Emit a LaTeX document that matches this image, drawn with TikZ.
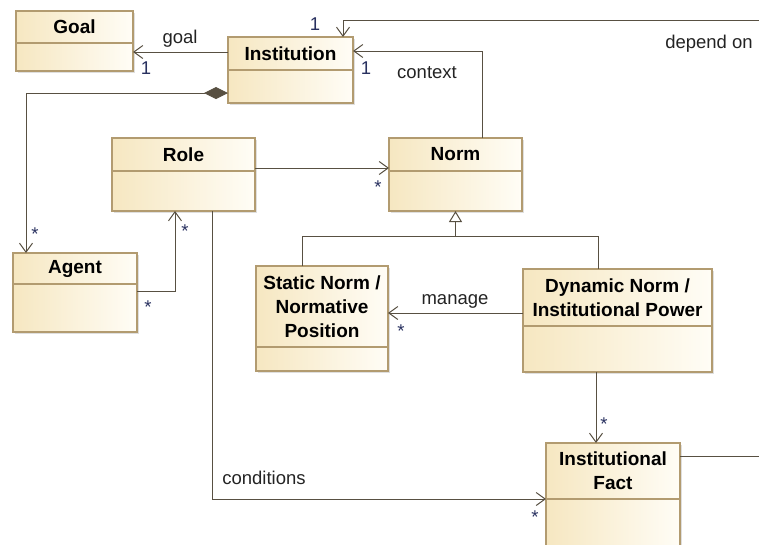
\documentclass[tikz,border=0pt]{standalone}
\usepackage{fontspec}
\setmainfont{Liberation Sans}
\usetikzlibrary{arrows.meta,shadows,calc}
\definecolor{classL}{RGB}{246,231,193}
\definecolor{classR}{RGB}{255,253,246}
\definecolor{classB}{RGB}{178,155,112}
\definecolor{lineC}{RGB}{88,80,66}
\definecolor{multC}{RGB}{40,48,95}
\definecolor{labC}{RGB}{35,35,35}
\tikzset{
  classbox/.style={draw=classB, line width=1.2pt, left color=classL, right color=classR,
    inner sep=0pt, outer sep=0pt,
    drop shadow={shadow xshift=1.5pt, shadow yshift=-1.5pt, opacity=0.25}},
  divider/.style={draw=classB, line width=1.2pt},
  classtitle/.style={font=\fontsize{19}{24}\selectfont\bfseries, align=center, inner sep=0pt, text=black},
  conn/.style={draw=lineC, line width=1pt},
  nav/.style={conn, -{Straight Barb[length=9pt,width=13pt]}},
  gen/.style={conn, -{Triangle[open, length=11pt, width=13pt, fill=white]}},
  comp/.style={conn, {Diamond[length=24pt, width=12pt, fill=lineC]}-{Straight Barb[length=9pt,width=13pt]}},
  lab/.style={font=\fontsize{18.5}{20}\selectfont, text=labC, inner sep=0pt},
  mult/.style={font=\fontsize{18.5}{20}\selectfont, text=multC, inner sep=0pt},
}
\newcommand{\umlclass}[7]{%
  \pgfmathsetmacro{\umlW}{#4-#2}\pgfmathsetmacro{\umlH}{#5-#3}%
  \node[classbox, minimum width=\umlW pt, minimum height=\umlH pt] (#1) at ({(#2+#4)/2},{(#3+#5)/2}) {};
  \draw[divider] (#2,#6) -- (#4,#6);
  \node[classtitle] (#1-title) at ({(#2+#4)/2},{(#3+#6)/2}) {#7};
}
\begin{document}
\begin{tikzpicture}[x=1pt,y=-1pt]
\useasboundingbox (0,0) rectangle (759,544);
\clip (0,0) rectangle (759,544);

\umlclass{Goal}{16}{11}{133}{71}{43}{Goal}
\umlclass{Institution}{228}{37}{353}{103}{70}{Institution}
\umlclass{Role}{112}{138}{255}{211}{171}{Role}
\umlclass{Norm}{389}{138}{522}{211}{171}{Norm}
\umlclass{Agent}{13}{253}{137}{332}{284}{Agent}
\umlclass{Static}{256}{266}{388}{371}{347}{Static Norm /\\Normative\\Position}
\umlclass{Dynamic}{523}{269}{712}{372}{326}{Dynamic Norm /\\Institutional Power}
\umlclass{IF}{546}{443}{680}{570}{499}{Institutional\\Fact}

% goal
\draw[nav] (Institution.west |- 0,52) -- (Goal.east |- 0,52);
\node[lab] (lgoal) at (180,39) {goal};
\node[mult] (mgoal) at (146,68) {1};

% composition Institution -> Agent
\draw[comp] (Institution.west |- 0,93) -| (Agent.north -| 26,0);
\node[mult] (magent) at (35,234) {*};

% Agent -> Role
\draw[nav] (Agent.east |- 0,291) -| (Role.south -| 175,0);
\node[mult] (mrole) at (185,231) {*};
\node[mult] (magent2) at (148,307) {*};

% Role -> Norm
\draw[nav] (Role.east |- 0,168) -- (Norm.west |- 0,168);
\node[mult] (mnorm) at (378,187) {*};

% context
\draw[nav] (Norm.north -| 482,0) |- (Institution.east |- 0,51);
\node[lab] (lcontext) at (427,73) {context};
\node[mult] (mctx) at (366,68) {1};

% generalization
\coordinate (genjoin) at (455.5,236);
\coordinate (genL) at (302,236);
\coordinate (genR) at (598,236);
\draw[conn] (Static.north -| genL) -- (genL) -- (genR) -- (Dynamic.north -| genR);
\draw[gen] (genjoin) -- (Norm.south);

% manage
\draw[nav] (Dynamic.west |- 0,313) -- (Static.east |- 0,313);
\node[lab] (lmanage) at (455,301) {manage};
\node[mult] (mmanage) at (401,331) {*};

% Dynamic -> IF
\draw[nav] (Dynamic.south -| 596,0) -- (IF.north -| 596,0);
\node[mult] (mif) at (604,424) {*};

% conditions
\draw[nav] (Role.south -| 212,0) |- (IF.west |- 0,499);
\node[lab] (lcond) at (264,478) {conditions};
\node[mult] (mcond) at (535,517) {*};

% depend on
\draw[nav] (IF.east |- 0,456) -- (790,456) -- (790,20) -| (Institution.north -| 343,0);
\node[lab] (ldep) at (709,44) {depend on};
\node[mult] (mdep) at (315,24) {1};
\end{tikzpicture}
\end{document}
